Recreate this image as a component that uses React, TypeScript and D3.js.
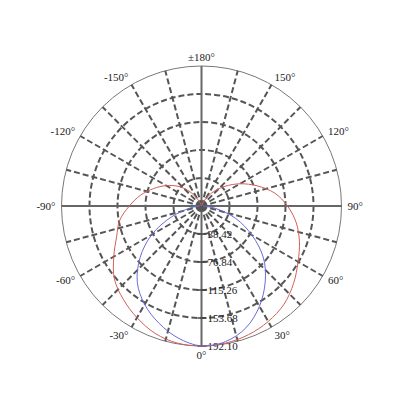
import * as d3 from "d3";

// polar intensity distribution, angle 0 at bottom, positive clockwise to the right
const redAngles = [-180, -170, -160, -150, -140, -130, -120, -110, -100, -90, -80, -70, -60, -50, -40, -30, -20, -10,
  0, 10, 20, 30, 40, 50, 60, 70, 80, 90, 100, 110, 120, 130, 140, 150, 160, 170];
const redValues = [0, 0, 3, 11, 27, 42, 56, 70, 85, 99, 114, 124, 139, 156, 167, 177, 186, 191,
  192, 191, 188, 183, 176, 165, 153, 143, 132, 118, 102, 81, 61, 42, 26, 11, 3, 0];

const blueAngles = [-90, -80, -70, -60, -50, -40, -30, -20, -10, 0, 10, 20, 30, 40, 50, 60, 70, 80, 90];
const blueValues = [2, 16, 44, 79, 110, 137, 156, 171, 184, 192, 189, 178, 159, 136, 111, 80, 50, 20, 2];

const ringValues = [38.42, 76.84, 115.26, 153.68, 192.1];
const angleTicks = [-150, -120, -90, -60, -30, 0, 30, 60, 90, 120, 150, 180];
const angleLabels = ["-150°", "-120°", "-90°", "-60°", "-30°", "0°", "30°", "60°", "90°", "120°", "150°", "±180°"];

const width = 400;
const height = 400;
const cx = 201.5;
const cy = 206;
const outer = 140;

const rScale = d3.scaleLinear().domain([0, 192.1]).range([0, outer]);
const toRad = (deg: number) => Math.PI - (deg * Math.PI) / 180;

export default function App() {
  const spokes = d3.range(0, 360, 15);

  const redLine = d3
    .lineRadial<number>()
    .angle((_, i) => toRad(redAngles[i]))
    .radius((d) => rScale(d))
    .curve(d3.curveCatmullRomClosed);

  const blueLine = d3
    .lineRadial<number>()
    .angle((_, i) => toRad(blueAngles[i]))
    .radius((d) => rScale(d))
    .curve(d3.curveCatmullRom);

  const font = "'Liberation Serif', 'Times New Roman', serif";

  return (
    <div style={{ position: "fixed", left: 0, top: 0 }}>
      <svg width={width} height={height} style={{ display: "block", background: "#fff" }}>
        <g transform={`translate(${cx},${cy})`}>
          {/* dashed rings */}
          {ringValues.slice(0, -1).map((v) => (
            <circle key={v} r={rScale(v)} fill="none" stroke="#555" strokeWidth={2} strokeDasharray="6,3" />
          ))}
          <circle r={outer} fill="none" stroke="#777" strokeWidth={1} />

          {/* spokes */}
          {spokes.map((a) => {
            const main = a % 90 === 0;
            const t = toRad(a);
            return (
              <line
                key={a}
                x1={0}
                y1={0}
                x2={outer * Math.sin(t)}
                y2={-outer * Math.cos(t)}
                stroke={main ? "#666" : "#555"}
                strokeWidth={2}
                strokeDasharray={main ? undefined : "6,3"}
              />
            );
          })}

          {/* radial ticks and labels along 0° */}
          {ringValues.map((v) => (
            <g key={v} transform={`translate(0,${rScale(v)})`}>
              <line x1={-4} x2={5} y1={0} y2={0} stroke="#444" strokeWidth={1.5} />
              <text x={6} dy="0.35em" fontSize={11} fontFamily={font} fill="#222">
                {v.toFixed(2)}
              </text>
            </g>
          ))}

          {/* curves */}
          <path d={redLine(redValues) || ""} fill="none" stroke="#d0605a" strokeWidth={1} />
          <path d={blueLine(blueValues) || ""} fill="none" stroke="#6a6ad8" strokeWidth={1} />

          {/* angle labels */}
          {angleTicks.map((a, i) => {
            const t = toRad(a);
            const s = Math.sin(t);
            const anchor = s > 0.01 ? "start" : s < -0.01 ? "end" : "middle";
            return (
              <text
                key={a}
                x={146 * s}
                y={-149 * Math.cos(t)}
                dy="0.35em"
                textAnchor={anchor}
                fontSize={11}
                fontFamily={font}
                fill="#222"
              >
                {angleLabels[i]}
              </text>
            );
          })}
        </g>
      </svg>
    </div>
  );
}
